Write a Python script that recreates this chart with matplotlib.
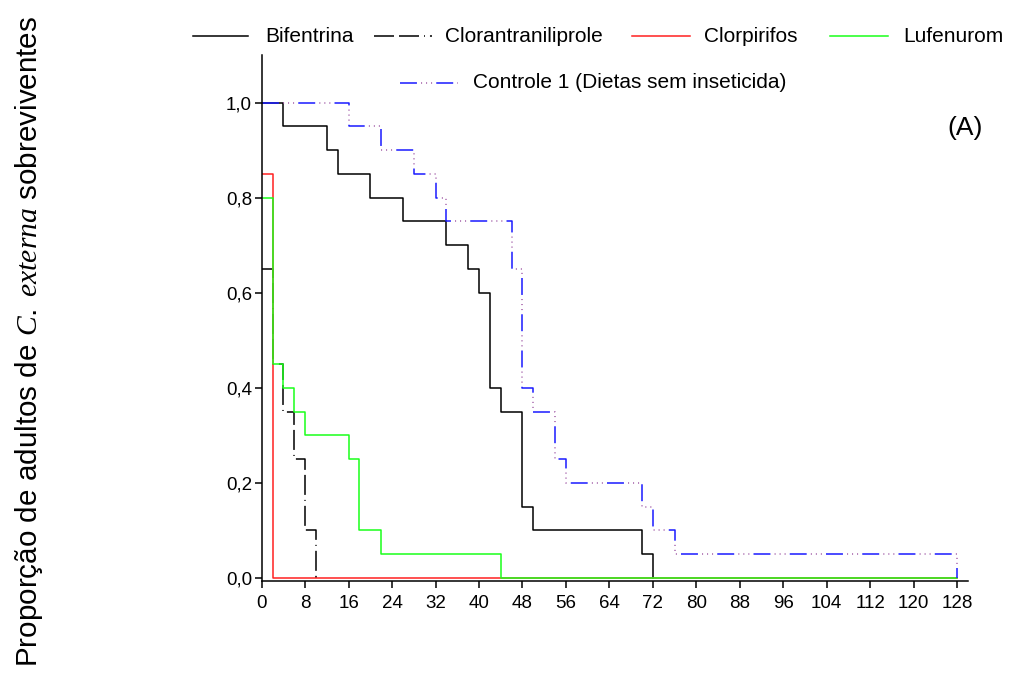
import matplotlib
matplotlib.use("Agg")
import matplotlib.pyplot as plt
from matplotlib.lines import Line2D

plt.rcParams["font.family"] = ["Liberation Sans", "DejaVu Sans"]
plt.rcParams["mathtext.fontset"] = "custom"
plt.rcParams["mathtext.rm"] = "Liberation Sans"
plt.rcParams["mathtext.it"] = "Liberation Serif:italic"
plt.rcParams["lines.scale_dashes"] = False

# Survival data (hours, proportion alive)
bif_t = [0, 4, 12, 14, 20, 26, 34, 38, 40, 42, 44, 48, 50, 70, 72]
bif_s = [1.0, 0.95, 0.90, 0.85, 0.80, 0.75, 0.70, 0.65, 0.60, 0.40, 0.35, 0.15, 0.10, 0.05, 0.0]

clt_t = [0, 2, 4, 6, 8, 10]
clt_s = [0.65, 0.45, 0.35, 0.25, 0.10, 0.0]

clp_t = [0, 2, 128]
clp_s = [0.85, 0.0, 0.0]

luf_t = [0, 2, 4, 6, 8, 16, 18, 22, 44, 128]
luf_s = [0.80, 0.45, 0.40, 0.35, 0.30, 0.25, 0.10, 0.05, 0.0, 0.0]

ctl_t = [0, 16, 22, 28, 32, 34, 46, 48, 50, 54, 56, 70, 72, 76, 128]
ctl_s = [1.0, 0.95, 0.90, 0.85, 0.80, 0.75, 0.65, 0.40, 0.35, 0.25, 0.20, 0.15, 0.10, 0.05, 0.0]

labels = ["Bifentrina", "Clorantraniliprole", "Clorpirifos", "Lufenurom",
          "Controle 1 (Dietas sem inseticida)"]
x_ticks = list(range(0, 129, 8))
y_ticks = [0.0, 0.2, 0.4, 0.6, 0.8, 1.0]
y_ticklabels = ["0,0", "0,2", "0,4", "0,6", "0,8", "1,0"]

W, H = 1015, 696
fig = plt.figure(figsize=(W / 100, H / 100), dpi=100)
ax = fig.add_axes([261.7 / W, 1 - 581 / H, (968 - 261.7) / W, (581 - 55) / H])

LW = 1.1
blue_dash = (0, (12.2, 13.9))
purple_dots = (10.9, (0.7, 2.9, 0.7, 2.9, 0.7, 18.2))
clt_dash = (0, (14.4, 3.6, 14.4, 3.6, 0.7, 3.6))

styles = [
    dict(color="black", lw=LW, ls="-"),
    dict(color="black", lw=LW, ls=clt_dash),
    dict(color="#ff2020", lw=LW, ls="-"),
    dict(color="#1aff1a", lw=LW, ls="-"),
]

ax.step(bif_t, bif_s, where="post", **styles[0])
ax.step(clt_t, clt_s, where="post", **styles[1])
ax.step(clp_t, clp_s, where="post", **styles[2])
ax.step(luf_t, luf_s, where="post", **styles[3])
ax.step(ctl_t, ctl_s, where="post", color="#9a4fa0", lw=LW, ls=purple_dots)
ax.step(ctl_t, ctl_s, where="post", color="#1a1aff", lw=LW, ls=blue_dash)

ax.set_xlim(0, 130)
ax.set_ylim(-0.0065, 1.1)
ax.set_xticks(x_ticks)
ax.set_xticklabels([str(v) for v in x_ticks])
ax.set_yticks(y_ticks)
ax.set_yticklabels(y_ticklabels)
for s in ("top", "right"):
    ax.spines[s].set_visible(False)
for s in ("left", "bottom"):
    ax.spines[s].set_linewidth(1.1)
ax.tick_params(axis="both", direction="out", length=5, width=1.1, labelsize=13.5)
ax.tick_params(axis="x", pad=5)
ax.tick_params(axis="y", pad=2)

# Legend drawn in figure coordinates
def fx(px):
    return px / W

def fy(py):
    return 1 - py / H

legend_rows = [
    (193, 248, 265, 36, 0),
    (374, 432, 445, 36, 1),
    (632, 690, 704, 36, 2),
    (830, 888, 903, 36, 3),
]
for x0, x1, xt, yy, i in legend_rows:
    fig.add_artist(Line2D([fx(x0), fx(x1)], [fy(yy), fy(yy)],
                          transform=fig.transFigure, **styles[i]))
    fig.text(fx(xt), fy(yy), labels[i], fontsize=15, ha="left", va="center")

fig.add_artist(Line2D([fx(400), fx(458)], [fy(83), fy(83)], transform=fig.transFigure,
                      color="#9a4fa0", lw=LW, ls=purple_dots))
fig.add_artist(Line2D([fx(400), fx(458)], [fy(83), fy(83)], transform=fig.transFigure,
                      color="#1a1aff", lw=LW, ls=blue_dash))
fig.text(fx(473), fy(83), labels[4], fontsize=15, ha="left", va="center")

fig.text(fx(965), fy(128), "(A)", fontsize=19, ha="center", va="center")

fig.text(fx(29), fy(341), r"Proporção de adultos de $\mathit{C.\ externa}$ sobreviventes",
         rotation=90, fontsize=21.3, ha="center", va="center")

fig.savefig("out.png", dpi=100)
